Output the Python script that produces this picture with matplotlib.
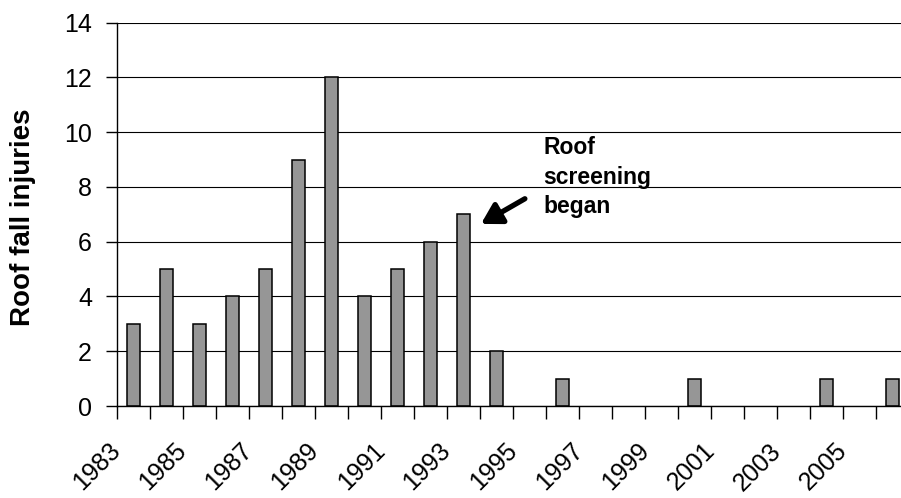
import matplotlib
matplotlib.use("Agg")
import matplotlib.pyplot as plt
import matplotlib.transforms as mtransforms
import numpy as np

years = list(range(1983, 2007))
injuries = [3, 5, 3, 4, 5, 9, 12, 4, 5, 6, 7, 2, 0, 1, 0, 0, 0, 1, 0, 0, 0, 1, 0, 1]
label_years = [str(y) for y in range(1983, 2007, 2)]
y_ticks = [0, 2, 4, 6, 8, 10, 12, 14]

plt.rcParams['font.family'] = ['Liberation Sans', 'DejaVu Sans']

W, H = 901, 498
fig = plt.figure(figsize=(W / 100, H / 100), dpi=100)
left, right, top, bottom = 117, 909, 22.7, 406
ax = fig.add_axes([left / W, 1 - bottom / H, (right - left) / W, (bottom - top) / H])

x = np.arange(len(years))
edge = ['black' if v > 0 else 'none' for v in injuries]
ax.bar(x, injuries, width=0.42, color='#969696', edgecolor=edge, linewidth=1.1, zorder=3)

ax.set_xlim(-0.5, len(years) - 0.5)
ax.set_ylim(0, 14)
ax.set_yticks(y_ticks)
ax.set_yticklabels([str(v) for v in y_ticks], fontsize=18)
ax.grid(axis='y', color='black', linewidth=0.8, zorder=0)
ax.set_axisbelow(True)

for s in ['top', 'right']:
    ax.spines[s].set_visible(False)
for s in ['left', 'bottom']:
    ax.spines[s].set_linewidth(1.0)
    ax.spines[s].set_zorder(4)

ax.tick_params(axis='y', direction='out', length=8, width=1.0, pad=10)

# category boundary ticks
ax.set_xticks(np.arange(-0.5, len(years), 1.0), minor=True)
ax.tick_params(axis='x', which='minor', direction='out', length=9, width=1.0)
lab_pos = [years.index(int(v)) for v in label_years]
ax.set_xticks(lab_pos)
ax.set_xticklabels(label_years, fontsize=18, rotation=45, ha='right', va='top',
                   rotation_mode='anchor')
ax.tick_params(axis='x', which='major', length=0, pad=23.5)
offset = mtransforms.ScaledTranslation(-25 / 100, 0, fig.dpi_scale_trans)
for lab in ax.get_xticklabels():
    lab.set_transform(lab.get_transform() + offset)

ax.set_ylabel('Roof fall injuries', fontsize=20, fontweight='bold')
ax.yaxis.label.set_va('center')
ax.yaxis.set_label_coords((23 - left) / (right - left), (bottom - 217.5) / (bottom - top))

ax.text(12.41, 9.85, 'Roof\nscreening\nbegan', fontsize=16.5, fontweight='bold',
        ha='left', va='top', linespacing=1.35)
ax.annotate('', xy=(10.53, 6.65), xytext=(11.86, 7.57),
            arrowprops=dict(arrowstyle='-|>,head_length=0.6,head_width=0.35',
                            lw=3.8, color='black', shrinkA=0, shrinkB=0,
                            mutation_scale=20))

fig.savefig('out.png', dpi=100)
